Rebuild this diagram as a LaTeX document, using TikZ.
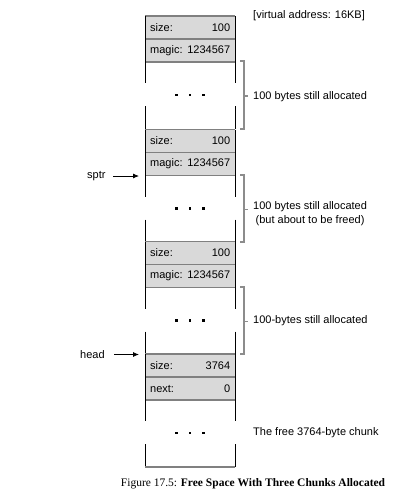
\documentclass[tikz,border=0pt]{standalone}
\usepackage{fontspec}
\setmainfont{Liberation Sans}
\newfontfamily\captionserif{Liberation Serif}
\usetikzlibrary{arrows.meta, positioning}
\definecolor{CellGray}{HTML}{D9D9D9}
\definecolor{RuleGray}{HTML}{808080}
\definecolor{BraceGray}{HTML}{8C8C8C}

\begin{document}
\begin{tikzpicture}[x=1pt, y=-1pt,
    cell/.style={rectangle, fill=CellGray, anchor=north west, minimum width=90pt,
        minimum height=22.6pt, inner xsep=5pt, inner ysep=0pt, text width=80pt,
        font=\fontsize{11}{12}\selectfont},
    rule/.style={RuleGray, line width=1.4pt},
    side/.style={black, line width=0.9pt},
    brace/.style={BraceGray, line width=1.8pt},
    note/.style={anchor=west, inner sep=0pt, font=\fontsize{11}{14}\selectfont},
    pointer/.style={-{Latex[length=6pt, width=5pt]}, line width=0.8pt}]
    \useasboundingbox (0,0) rectangle (413,493);

    % Chunks: header cells, body, side walls broken at the dots
    \foreach \k/\top/\fa/\va/\fb/\vb in {0/16/size:/100/magic:/1234567,
        1/129.5/size:/100/magic:/1234567, 2/241.5/size:/100/magic:/1234567,
        3/354/size:/3764/next:/0} {
        \node[cell] (sz\k) at (145,\top) {\fa\hfill\va};
        \node[cell] (hd\k) at (sz\k.south west) {\fb\hfill\vb};
        \draw[rule] (sz\k.north west) -- (sz\k.north east);
        \draw[rule] (hd\k.north west) -- (hd\k.north east);
        \draw[rule] (hd\k.south west) -- (hd\k.south east);
        \draw[side] (145,\top) -- (145,\top+67) (145,\top+90) -- (145,\top+112.8);
        \draw[side] (235,\top) -- (235,\top+67) (235,\top+90) -- (235,\top+112.8);
        \foreach \dx in {-13.5,0,13.5}
            \fill (190+\dx-1.3,\top+79-1.3) rectangle ++(2.6,2.6);
    }
    \draw[rule] (145,466.8) -- (235,466.8);

    % Brackets of the allocated chunks
    \foreach \top in {16,129.5,241.5} {
        \draw[brace] (240,\top+45.2) -- (244,\top+45.2) -- (244,\top+112.8) -- (240,\top+112.8);
        \draw[brace] (244,\top+80) -- (248,\top+80);
    }

    % Notes on the right
    \node[note] (vaddr) at (253,16) {[virtual address: 16KB]};
    \node[note] (alloc1) at (253,97) {100 bytes still allocated};
    \node[note, align=center] (alloc2) at (253,213.5) {100 bytes still allocated\\(but about to be freed)};
    \node[note] (alloc3) at (253,320.5) {100-bytes still allocated};
    \node[note] (freechunk) at (253,433) {The free 3764-byte chunk};

    % Pointers
    \node[note] (sptr) at (87,176) {sptr};
    \coordinate (sptrend) at (139,176);
    \draw[pointer] (113,176) -- (sptrend);
    \node[note] (head) at (80,354.5) {head};
    \coordinate (headend) at (139,354.5);
    \draw[pointer] (114,354.5) -- (headend);

    % Caption
    \node[inner sep=0pt, font=\captionserif\fontsize{11.5}{13}\selectfont] (caption) at (253,484)
        {Figure 17.5: \textbf{Free Space With Three Chunks Allocated}};
\end{tikzpicture}
\end{document}
